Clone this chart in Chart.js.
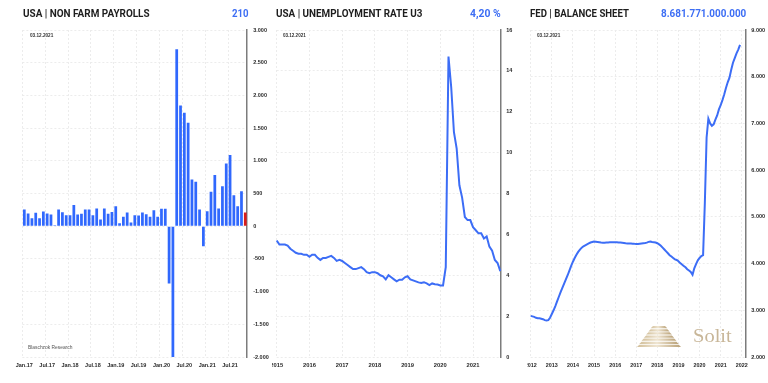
<!DOCTYPE html>
<html><head><meta charset="utf-8">
<script src="https://cdn.jsdelivr.net/npm/chart.js@4.4.1/dist/chart.umd.min.js"></script>
<style>
html,body{margin:0;padding:0;background:#fff;width:768px;height:383px;overflow:hidden;position:relative;}
.box{position:absolute;top:0;height:383px;}
.t{position:absolute;white-space:nowrap;transform-origin:0 50%;line-height:1;}
</style></head><body>
<div class="box" style="left:0;width:272px"><canvas id="c1"></canvas></div>
<div class="box" style="left:272px;width:254px"><canvas id="c2"></canvas></div>
<div class="box" style="left:527px;width:241px"><canvas id="c3"></canvas></div>
<canvas id="pyr" width="46" height="26" style="position:absolute;left:636px;top:324px"></canvas>
<script>
// ---------- DATA ----------
const nfpStart = [2017, 1];
const nfpValues = [255,194,122,204,122,224,194,178,15,255,214,168,
  168,326,178,189,255,255,168,270,102,270,189,219,
  306,46,143,209,56,168,163,209,184,143,245,143,
  265,265,-878,-2000,2705,1847,1735,1582,714,679,255,-306,
  230,526,781,270,612,959,1087,474,306,536,210];
const nfpTicks = [-2000,-1500,-1000,-500,0,500,1000,1500,2000,2500,3000];

const urStart = [2015, 1];
const urValues = [5.7,5.5,5.5,5.5,5.45,5.3,5.2,5.1,5.05,5.05,5.0,5.0,
  4.9,5.0,5.0,4.85,4.75,4.85,4.85,4.9,4.95,4.85,4.7,4.75,
  4.7,4.6,4.5,4.4,4.3,4.3,4.35,4.4,4.3,4.15,4.1,4.15,
  4.15,4.1,4.0,3.95,3.8,4.0,3.9,3.8,3.7,3.78,3.78,3.9,
  3.95,3.8,3.75,3.7,3.65,3.62,3.66,3.6,3.52,3.6,3.56,3.55,
  3.5,3.5,4.4,14.7,13.2,11.0,10.2,8.4,7.8,6.85,6.7,6.7,
  6.35,6.2,6.05,6.05,5.8,5.9,5.4,5.2,4.75,4.6,4.2];
const urTicks = [0,2,4,6,8,10,12,14,16];

const fedStart = [2012, 1];
const fedMonthsShown = 123; // Jan 2012 .. Mar 2022 axis span
const fedValues = [2880,2870,2860,2840,2830,2830,2820,2810,2790,2780,2790,2840,
  2920,3000,3090,3190,3290,3390,3480,3570,3660,3750,3850,3950,
  4040,4120,4190,4250,4300,4340,4370,4390,4410,4430,4450,4460,
  4470,4465,4460,4455,4450,4448,4448,4450,4452,4455,4455,4455,
  4456,4455,4452,4450,4445,4440,4435,4432,4430,4428,4425,4422,
  4420,4420,4425,4430,4435,4440,4448,4465,4470,4460,4455,4450,
  4435,4410,4380,4340,4300,4260,4220,4180,4150,4120,4090,4077,
  4050,4010,3980,3950,3920,3880,3850,3820,3760,3900,3990,4070,
  4120,4160,4180,5300,6700,7100,7000,6950,6980,7080,7170,7300,
  7390,7500,7620,7760,7880,7980,8150,8300,8400,8500,8580,8682];
const fedTicks = [2000,3000,4000,5000,6000,7000,8000,9000];

const monthNames = ['Jan','Feb','Mar','Apr','May','Jun','Jul','Aug','Sep','Oct','Nov','Dec'];
function monthLabels(start, count){
  const out=[]; let y=start[0], m=start[1];
  for(let i=0;i<count;i++){ out.push(y+'-'+String(m).padStart(2,'0')); m++; if(m>12){m=1;y++;} }
  return out;
}
const nfpLabels = monthLabels(nfpStart, nfpValues.length);
const urLabels = monthLabels(urStart, urValues.length);
const fedLabels = monthLabels(fedStart, fedMonthsShown);

function fmt(v){ const s=Math.abs(v).toString().replace(/\B(?=(\d{3})+(?!\d))/g,'.'); return (v<0?'-':'')+s; }

// ---------- STYLE ----------
const BLUE='#3068fd', LINE='#3c6df6', RED='#d71d1d';
const TICKFONT={family:'"Liberation Sans", Arial, sans-serif', size:5.5, weight:'bold'};
const GRID='#ececec';
Chart.defaults.font.family='"Liberation Sans", Arial, sans-serif';

function makeOptions(cfg){
  return {
    responsive:true, maintainAspectRatio:false, animation:false, devicePixelRatio:1,
    layout:{padding:{left:cfg.padLeft, top:30, right:0, bottom:0}},
    plugins:{legend:{display:false}, tooltip:{enabled:false}},
    scales:{
      x:{
        type:'category', offset:cfg.offset,
        grid:{offset:cfg.offset, drawTicks:false, lineWidth:1,
          color:(c)=> (c.tick && cfg.isMajor(c.index)) ? GRID : 'rgba(0,0,0,0)'},
        border:{display:false, dash:[2,2]},
        ticks:{autoSkip:false, maxRotation:0, minRotation:0, padding:5, color:'#2a2a2a',
          font:Object.assign({}, TICKFONT, {size:cfg.xFont||5.5}),
          callback:function(v,i){ return cfg.isMajor(i) ? cfg.xLabel(this.getLabelForValue(v)) : ''; }},
        afterFit:(s)=>{ s.height=26; s.paddingLeft=0; s.paddingRight=0; }
      },
      y:{
        position:'right', min:cfg.yMin, max:cfg.yMax,
        afterBuildTicks:(s)=>{ s.ticks = cfg.yTicks.map(v=>({value:v})); },
        grid:{color:GRID, drawTicks:false, lineWidth:1},
        border:{display:true, color:'#7c7c7c', width:1.5, dash:[2,2]},
        ticks:{padding:6, color:'#2a2a2a', font:TICKFONT, callback:(v)=>fmt(v)},
        afterFit:(s)=>{ s.width=cfg.yWidth; s.paddingTop=0; s.paddingBottom=0; }
      }
    }
  };
}

// Panel 1: Non farm payrolls
new Chart(document.getElementById('c1'), {
  type:'bar',
  data:{labels:nfpLabels, datasets:[{data:nfpValues,
    backgroundColor:nfpValues.map((v,i)=> i===nfpValues.length-1 ? RED : BLUE),
    barPercentage:0.72, categoryPercentage:1}]},
  options:makeOptions({padLeft:22.4, yWidth:24.8, yMin:-2000, yMax:3000, yTicks:nfpTicks, offset:true,
    isMajor:(i)=> i!==undefined && i < nfpLabels.length && (i%6===0),
    xLabel:(l)=> monthNames[+l.slice(5)-1]+'.'+l.slice(2,4)})
});

// Panel 2: Unemployment
new Chart(document.getElementById('c2'), {
  type:'line',
  data:{labels:urLabels, datasets:[{data:urValues, borderColor:LINE, borderWidth:2, pointRadius:0, tension:0, fill:false}]},
  options:makeOptions({padLeft:4.7, yWidth:25.7, yMin:0, yMax:16, yTicks:urTicks, offset:false, xFont:5.8,
    isMajor:(i)=> i!==undefined && urLabels[i] && urLabels[i].endsWith('-01'),
    xLabel:(l)=> l.slice(0,4)})
});

// Panel 3: Fed balance sheet
new Chart(document.getElementById('c3'), {
  type:'line',
  data:{labels:fedLabels, datasets:[{data:fedValues, borderColor:LINE, borderWidth:2, pointRadius:0, tension:0, fill:false}]},
  options:makeOptions({padLeft:3.7, yWidth:22.7, yMin:2000, yMax:9000, yTicks:fedTicks, offset:false, xFont:5.4,
    isMajor:(i)=> i!==undefined && fedLabels[i] && fedLabels[i].endsWith('-01'),
    xLabel:(l)=> l.slice(0,4)})
});

// ---------- TEXTS ----------
function addText(txt, o){
  const el=document.createElement('span');
  el.className='t'; el.textContent=txt;
  el.style.fontSize=o.size+'px'; el.style.fontWeight=o.weight||'normal';
  el.style.color=o.color; el.style.fontFamily=o.family||'Roboto, "Liberation Sans", sans-serif';
  document.body.appendChild(el);
  const w=el.getBoundingClientRect().width;
  const sx=o.width ? o.width/w : 1;
  const left = o.left!==undefined ? o.left : o.right - w*sx;
  el.style.left=left+'px';
  el.style.top=(o.cy - o.size*0.49)+'px';
  if(sx!==1) el.style.transform='scaleX('+sx+')';
}
const TITLE='#1e1e1e', VAL='#3d6ef4';
addText('USA | NON FARM PAYROLLS',{left:22.7, width:126.6, cy:14, size:10.8, weight:700, color:TITLE});
addText('210',{right:248.3, width:16.6, cy:14, size:10.8, weight:700, color:VAL});
addText('USA | UNEMPLOYMENT RATE U3',{left:276, width:146.3, cy:14, size:10.8, weight:700, color:TITLE});
addText('4,20 %',{right:500.7, width:30.7, cy:14, size:10.8, weight:700, color:VAL});
addText('FED | BALANCE SHEET',{left:530, width:99, cy:14, size:10.8, weight:700, color:TITLE});
addText('8.681.771.000.000',{right:746, width:85.3, cy:14, size:10.8, weight:700, color:VAL});
const SMALLF='"Liberation Sans", Arial, sans-serif';
addText('03.12.2021',{left:30, width:23.3, cy:36.6, size:4.8, weight:700, color:'#333', family:SMALLF});
addText('03.12.2021',{left:283.3, width:22.7, cy:36.3, size:4.8, weight:700, color:'#333', family:SMALLF});
addText('03.12.2021',{left:537.3, width:23.3, cy:36.6, size:4.8, weight:700, color:'#333', family:SMALLF});
addText('Blaschzok Research',{left:28.3, width:44.4, cy:348.3, size:4.9, weight:400, color:'#555', family:SMALLF});
addText('Solit',{left:693, width:38.7, cy:335, size:19, weight:400, color:'#c8b698', family:'"Liberation Serif", "DejaVu Serif", serif'});

// Solit pyramid logo
(function(){
  const g=document.getElementById('pyr').getContext('2d');
  const layers=7, H=22, bw=44, tw=12, cx=23;
  for(let k=0;k<layers;k++){
    const y0=2+k*H/layers, y1=y0+H/layers-0.9;
    const wt=tw+(bw-tw)*k/layers, wb=tw+(bw-tw)*(k+1)/layers;
    const grad=g.createLinearGradient(cx-wb/2,0,cx+wb/2,0);
    grad.addColorStop(0,'#d2bf9a'); grad.addColorStop(0.45,'#efe5d1'); grad.addColorStop(1,'#b9a177');
    g.fillStyle=grad;
    g.beginPath();
    g.moveTo(cx-wt/2,y0); g.lineTo(cx+wt/2,y0); g.lineTo(cx+wb/2,y1); g.lineTo(cx-wb/2,y1); g.closePath();
    g.fill();
  }
})();
</script>
</body></html>
